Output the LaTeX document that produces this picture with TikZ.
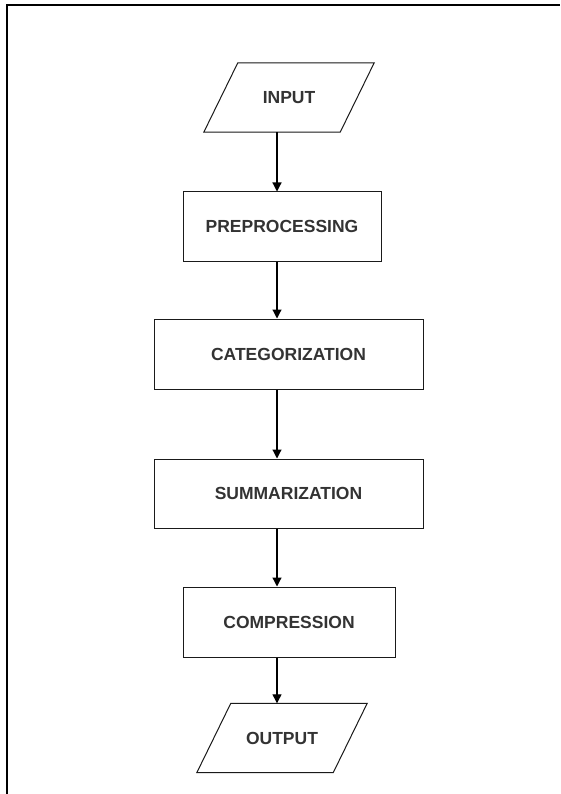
\documentclass[tikz,border=0pt]{standalone}
\usepackage{fontspec}
\setmainfont{Liberation Sans}
\usetikzlibrary{arrows.meta}
\definecolor{txt}{HTML}{333333}
\definecolor{edge}{HTML}{1A1A1A}
\begin{document}
\begin{tikzpicture}[x=1pt,y=-1pt,
  lbl/.style={font=\fontsize{17.5}{20}\selectfont\bfseries, text=txt},
  procbox/.style={lbl, draw=edge, line width=1pt, minimum height=69pt, inner sep=0pt},
  iobox/.style={lbl, minimum width=136pt, minimum height=69pt, inner sep=0pt},
  slant/.style={draw=edge, line width=1pt, line join=miter},
  arr/.style={-{Triangle[length=9pt,width=9pt]}, line width=1.2pt, draw=black},
  frame/.style={line width=2.5pt, draw=black}
]
\useasboundingbox (0,0) rectangle (560,794);
\fill[white] (0,0) rectangle (560,794);
\coordinate (fbl) at (7,794);
\coordinate (ftl) at (7,5);
\coordinate (ftr) at (560,5);
\draw[frame] (fbl) -- (ftl) -- (ftr);

\coordinate (axis) at (277,0);

\node[iobox] (in) at (289,97.5) {INPUT};
\draw[slant] ([xshift=-17pt]in.south west) -- ([xshift=-17pt]in.south east)
  -- ([xshift=17pt]in.north east) -- ([xshift=17pt]in.north west) -- cycle;

\node[procbox, minimum width=198pt] (pre) at (282,226.5) {PREPROCESSING};
\node[procbox, minimum width=269pt, minimum height=70pt] (cat) at (288.5,354) {CATEGORIZATION};
\node[procbox, minimum width=269pt] (sum) at (288.5,493.5) {SUMMARIZATION};
\node[procbox, minimum width=212pt, minimum height=70pt] (comp) at (289,622) {COMPRESSION};

\node[iobox] (out) at (282,738) {OUTPUT};
\draw[slant] ([xshift=-17pt]out.south west) -- ([xshift=-17pt]out.south east)
  -- ([xshift=17pt]out.north east) -- ([xshift=17pt]out.north west) -- cycle;

\draw[arr] (in.south -| axis) -- (pre.north -| axis);
\draw[arr] (pre.south -| axis) -- (cat.north -| axis);
\draw[arr] (cat.south -| axis) -- (sum.north -| axis);
\draw[arr] (sum.south -| axis) -- (comp.north -| axis);
\draw[arr] (comp.south -| axis) -- (out.north -| axis);
\end{tikzpicture}
\end{document}
